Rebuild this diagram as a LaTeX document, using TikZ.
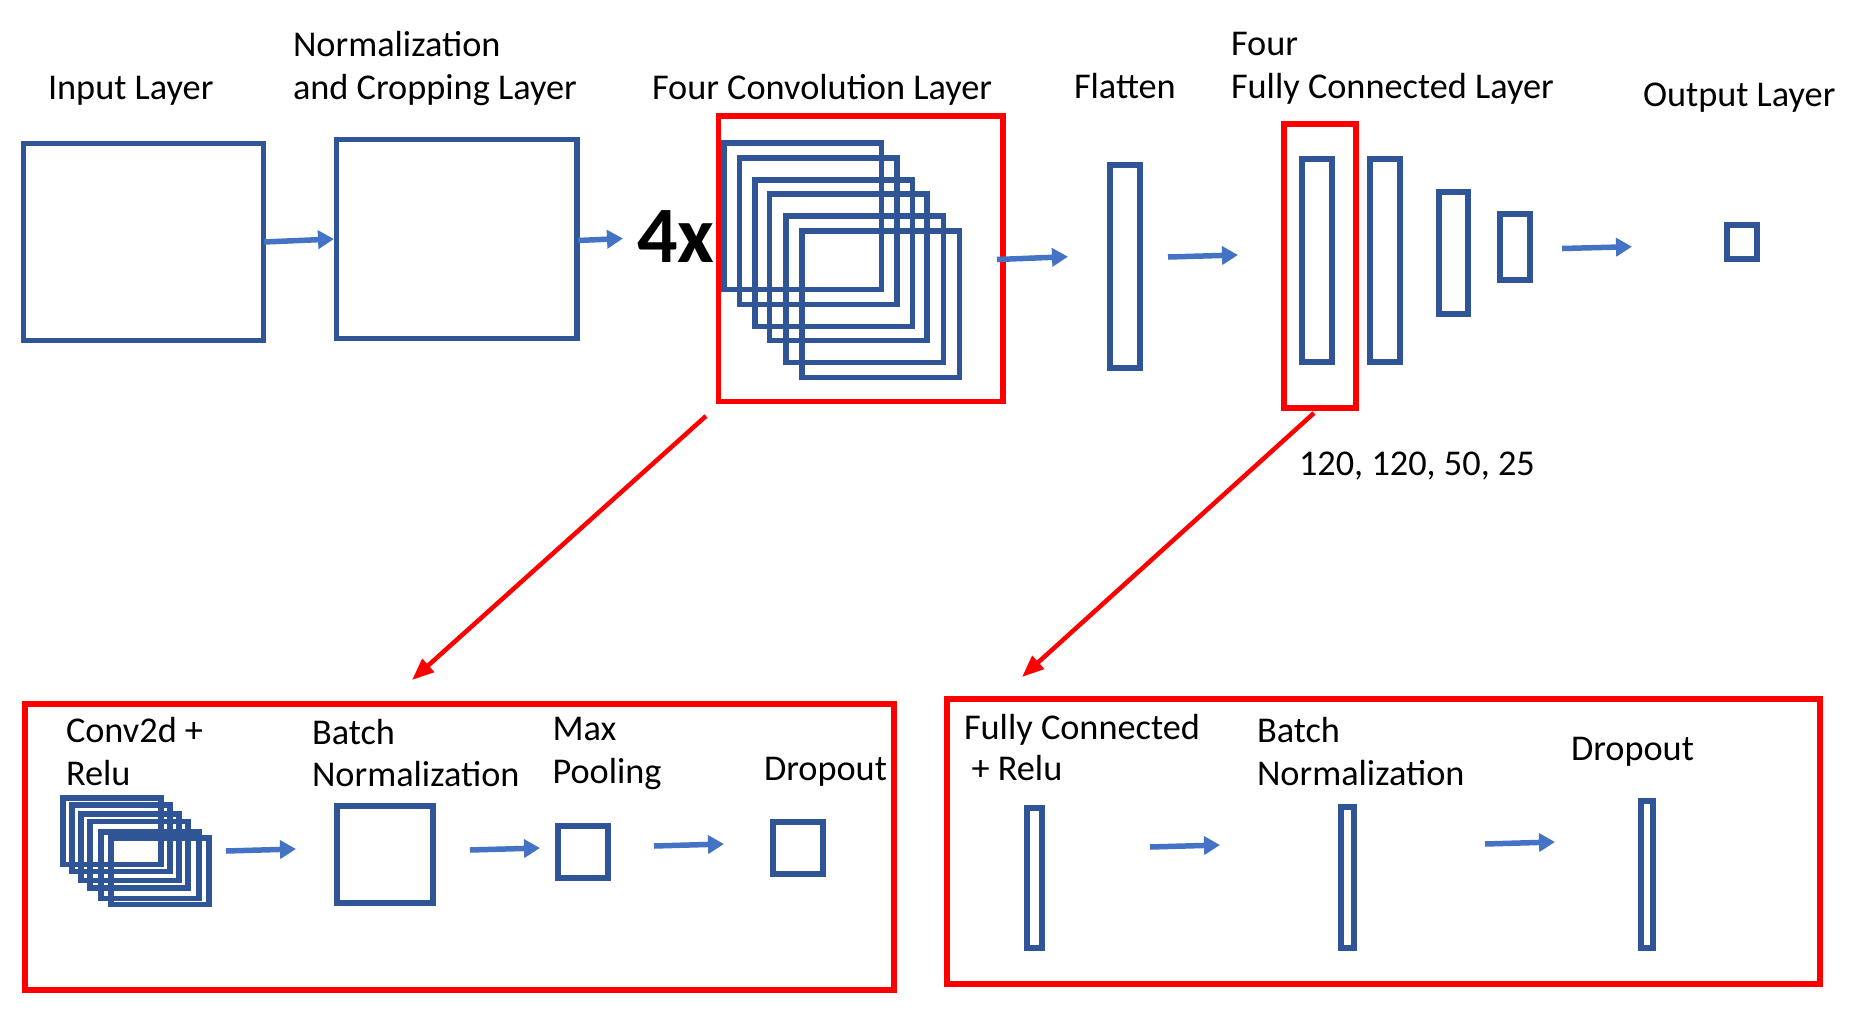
\documentclass[tikz,border=0pt]{standalone}
\usepackage{fontspec}
\setmainfont{Carlito}
\usetikzlibrary{arrows.meta}
\definecolor{nblue}{HTML}{2F5597}
\definecolor{ablue}{HTML}{4472C4}
\definecolor{nred}{HTML}{FF0000}
\begin{document}
\begin{tikzpicture}[x=1pt,y=-1pt,
  font=\fontsize{36.3}{42}\selectfont,
  bx/.style={draw=nblue, line width=5.5pt, inner sep=0pt, outer sep=0pt},
  rbx/.style={draw=nred, line width=5.5pt, inner sep=0pt, outer sep=0pt},
  arr/.style={draw=ablue, line width=5.5pt, -{Triangle[length=16pt,width=18pt]}},
  rarr/.style={draw=nred, line width=4.5pt, -{Triangle[length=22pt,width=17pt]}},
  lbl/.style={anchor=base west, inner sep=0pt, outer sep=0pt}]
\fill[white] (0,0) rectangle (1864,1018);
\useasboundingbox (0,0) rectangle (1864,1018);

% ---- top row ----
\node[bx, minimum width=239.6pt, minimum height=196.6pt] (inp) at (143.5,242) {};
\node[bx, minimum width=240.5pt, minimum height=198.6pt] (norm) at (456.75,239) {};

\foreach \n/\x/\y in {c1/724/143, c2/739.5/158, c3/755/180, c4/769.5/194, c5/786/216, c6/802/231}
  \node[bx, minimum width=157.5pt, minimum height=146.5pt] (\n) at (\x+78.75,\y+73.25) {};
\node[rbx, minimum width=284.5pt, minimum height=285.5pt] (convred) at (860.75,258.75) {};

\node[bx, minimum width=30pt, minimum height=203pt] (flat) at (1125,266.5) {};
\node[bx, minimum width=30pt, minimum height=203pt] (fc1) at (1317,260.5) {};
\node[bx, minimum width=30pt, minimum height=203pt] (fc2) at (1385,260.5) {};
\node[bx, minimum width=29pt, minimum height=122pt] (fc3) at (1453.5,253) {};
\node[bx, minimum width=30pt, minimum height=66pt] (fc4) at (1515,247) {};
\node[rbx, minimum width=72pt, minimum height=284pt] (fcred) at (1320,266) {};
\node[bx, minimum width=30pt, minimum height=34pt] (out) at (1742,242) {};

% labels top
\node[lbl] (tinp) at (48,99) {Input Layer};
\node[lbl] (tnorm1) at (293,56) {Normalization};
\node[lbl] (tnorm2) at (293,99) {and Cropping Layer};
\node[lbl] (tconv) at (652,99) {Four Convolution Layer};
\node[lbl] (tflat) at (1074,98) {Flatten};
\node[lbl] (tfc1) at (1231,55) {Four};
\node[lbl] (tfc2) at (1231,98) {Fully Connected Layer};
\node[lbl] (tout) at (1643,106) {Output Layer};
\node[lbl] (tnum) at (1299,475) {120, 120, 50, 25};
\node[lbl, font=\fontsize{80}{92}\selectfont\bfseries] (four) at (637,262.7) {4x};

% arrows top
\coordinate (a1s) at (264,242);  \coordinate (a1e) at (334,239);
\coordinate (a2s) at (578,240.5); \coordinate (a2e) at (623,238.5);
\coordinate (a3s) at (997,259.5); \coordinate (a3e) at (1068,256.7);
\coordinate (a4s) at (1168,257); \coordinate (a4e) at (1238,255);
\coordinate (a5s) at (1562,248.5); \coordinate (a5e) at (1632,246.7);
\foreach \i in {1,...,5} \draw[arr] (a\i s) -- (a\i e);

% red zoom arrows
\coordinate (r1s) at (706,416); \coordinate (r1e) at (412,680);
\coordinate (r2s) at (1314,413); \coordinate (r2e) at (1022,677);
\draw[rarr] (r1s) -- (r1e);
\draw[rarr] (r2s) -- (r2e);

% ---- lower left panel ----
\node[rbx, minimum width=869pt, minimum height=286pt] (lpanel) at (459.5,847) {};
\foreach \n/\x/\y in {d1/63/798, d2/72/805, d3/81/814, d4/90/821.5, d5/101/832, d6/111/838}
  \node[bx, minimum width=98pt, minimum height=66.5pt] (\n) at (\x+49,\y+33.25) {};
\node[bx, minimum width=96pt, minimum height=97pt] (bn) at (385,854.5) {};
\node[bx, minimum width=50pt, minimum height=52pt] (mp) at (583,852) {};
\node[bx, minimum width=50pt, minimum height=52pt] (dp) at (798,848) {};

\node[lbl] (tc2d1) at (66,742) {Conv2d +};
\node[lbl] (tc2d2) at (66,785.7) {Relu};
\node[lbl] (tbn1) at (312,744) {Batch};
\node[lbl] (tbn2) at (312,786.7) {Normalization};
\node[lbl] (tmp1) at (552.5,740) {Max};
\node[lbl] (tmp2) at (552.5,783) {Pooling};
\node[lbl] (tdp) at (764,780.7) {Dropout};

\coordinate (b1s) at (226,851); \coordinate (b1e) at (296,849);
\coordinate (b2s) at (470,850); \coordinate (b2e) at (540,848);
\coordinate (b3s) at (654,846); \coordinate (b3e) at (724,844);
\foreach \i in {1,2,3} \draw[arr] (b\i s) -- (b\i e);

% ---- lower right panel ----
\node[rbx, minimum width=873pt, minimum height=285pt] (rpanel) at (1383.5,841.5) {};
\node[bx, minimum width=15pt, minimum height=140pt] (fcr) at (1034.5,878) {};
\node[bx, minimum width=13pt, minimum height=141pt] (bnb) at (1347.5,877.5) {};
\node[bx, minimum width=12pt, minimum height=147pt] (dpb) at (1647,874.5) {};

\node[lbl] (tfcr1) at (964,739) {Fully Connected};
\node[lbl] (tfcr2) at (971.5,780.7) {+ Relu};
\node[lbl] (tbnb1) at (1257,742.3) {Batch};
\node[lbl] (tbnb2) at (1257,785) {Normalization};
\node[lbl] (tdpb) at (1571,760.7) {Dropout};

\coordinate (c1s) at (1150,847); \coordinate (c1e) at (1220,845);
\coordinate (c2s) at (1485,844); \coordinate (c2e) at (1555,842);
\draw[arr] (c1s) -- (c1e);
\draw[arr] (c2s) -- (c2e);
\end{tikzpicture}
\end{document}
